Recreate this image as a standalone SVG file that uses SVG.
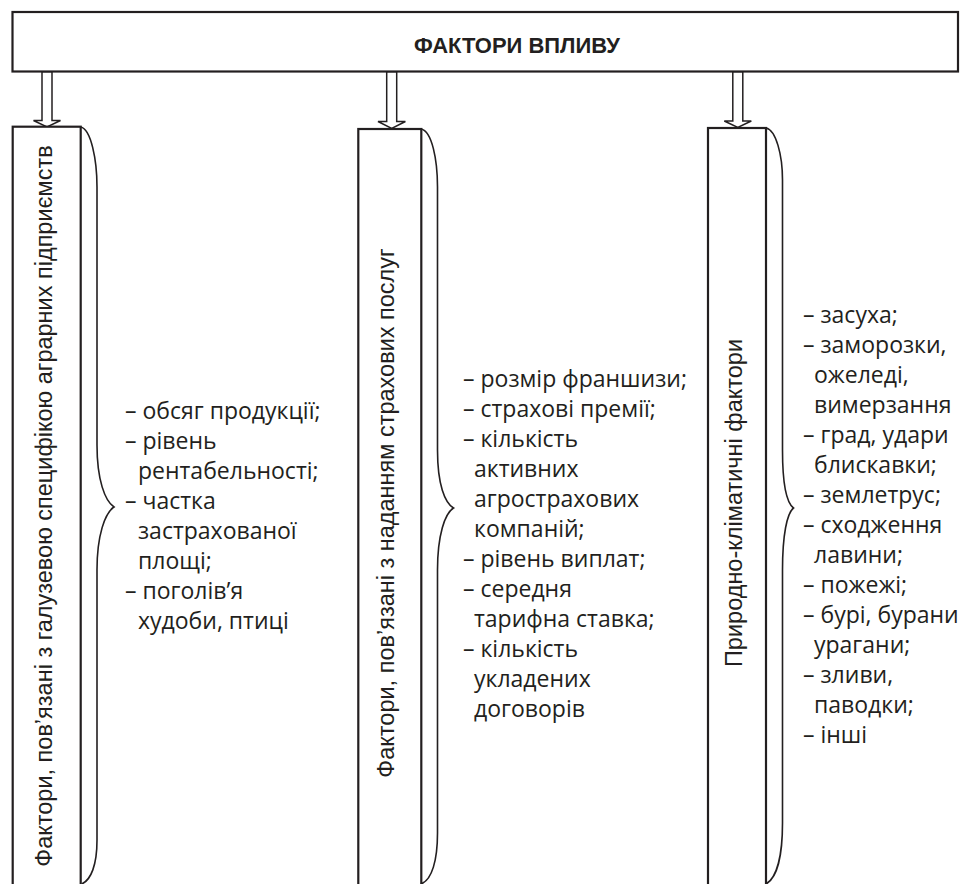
<svg xmlns="http://www.w3.org/2000/svg" width="962" height="884" viewBox="0 0 962 884">
<style>
.box{fill:#fff;stroke:#231f20;stroke-width:2.2}
.arr{fill:#fff;stroke:#231f20;stroke-width:1.5;stroke-linejoin:miter}
.brace{fill:none;stroke:#231f20;stroke-width:1.6}
.title{font-family:"Liberation Sans",Arial,sans-serif;font-weight:bold;font-size:22px;fill:#231f20}
.vt{font-family:"Liberation Sans",Arial,sans-serif;font-size:23.5px;fill:#231f20}
.li{font-family:"Open Sans","Noto Sans",sans-serif;font-size:23px;fill:#231f20}
</style>
<rect width="962" height="884" fill="#fff"/>
<g id="root">
<rect class="box" x="12.5" y="12" width="945.5" height="59.5"/>
<text class="title" x="517" y="53" text-anchor="middle" textLength="206" lengthAdjust="spacingAndGlyphs">ФАКТОРИ ВПЛИВУ</text>
</g>
<g id="connectors">
<polygon class="arr" points="42,72 42,120.5 33.5,120.5 47,127 60.5,120.5 52,120.5 52,72"/>
<polygon class="arr" points="386.7,72 386.7,121.5 378,121.5 391.7,128.5 405.4,121.5 396.7,121.5 396.7,72"/>
<polygon class="arr" points="732.8,72 732.8,121 724.3,121 737.8,127.5 751.3,121 742.8,121 742.8,72"/>
</g>
<g id="node1">
<rect class="box" x="12.7" y="126.7" width="68" height="770"/>
<text class="vt" transform="translate(52,506) rotate(-90)" text-anchor="middle">Фактори, пов’язані з галузевою специфікою аграрних підприємств</text>
<path class="brace" d="M80.7,127 C91,129 97,160 97,187 L97,445 C97,480 105,501 114,507 C105,513 97,535 97,570 L97,840 C97,865 91,880 81.7,884"/>
<text class="li" x="125" y="419">– обсяг продукції;</text>
<text class="li" x="125" y="449">– рівень</text>
<text class="li" x="138" y="479">рентабельності;</text>
<text class="li" x="125" y="509">– частка</text>
<text class="li" x="138" y="539">застрахованої</text>
<text class="li" x="138" y="569">площі;</text>
<text class="li" x="125" y="599">– поголів’я</text>
<text class="li" x="138" y="629">худоби, птиці</text>
</g>
<g id="node2">
<rect class="box" x="358.3" y="129" width="63" height="770"/>
<text class="vt" transform="translate(394,513) rotate(-90)" text-anchor="middle">Фактори, пов’язані з наданням страхових послуг</text>
<path class="brace" d="M421,129 C432,131 437.5,160 437.5,187 L437.5,450 C437.5,485 445,503 453.5,508 C445,513 437.5,535 437.5,570 L437.5,833 C437.5,860 432,880 421,884"/>
<text class="li" x="463" y="387">– розмір франшизи;</text>
<text class="li" x="463" y="417">– страхові премії;</text>
<text class="li" x="463" y="447">– кількість</text>
<text class="li" x="474" y="477">активних</text>
<text class="li" x="474" y="507">агрострахових</text>
<text class="li" x="474" y="537">компаній;</text>
<text class="li" x="463" y="567">– рівень виплат;</text>
<text class="li" x="463" y="597">– середня</text>
<text class="li" x="474" y="627">тарифна ставка;</text>
<text class="li" x="463" y="657">– кількість</text>
<text class="li" x="474" y="687">укладених</text>
<text class="li" x="474" y="717">договорів</text>
</g>
<g id="node3">
<rect class="box" x="708" y="128" width="58" height="770"/>
<text class="vt" transform="translate(742,503) rotate(-90)" text-anchor="middle">Природно-кліматичні фактори</text>
<path class="brace" d="M766,128 C776,130 782.5,155 782.5,180 L782.5,450 C782.5,485 787,503 793.5,508 C787,513 782.5,535 782.5,570 L782.5,823 C782.5,855 777,878 766,884"/>
<text class="li" x="803" y="323">– засуха;</text>
<text class="li" x="803" y="353">– заморозки,</text>
<text class="li" x="814" y="383">ожеледі,</text>
<text class="li" x="814" y="413">вимерзання</text>
<text class="li" x="803" y="443">– град, удари</text>
<text class="li" x="814" y="473">блискавки;</text>
<text class="li" x="803" y="503">– землетрус;</text>
<text class="li" x="803" y="533">– сходження</text>
<text class="li" x="814" y="563">лавини;</text>
<text class="li" x="803" y="593">– пожежі;</text>
<text class="li" x="803" y="623">– бурі, бурани</text>
<text class="li" x="814" y="653">урагани;</text>
<text class="li" x="803" y="683">– зливи,</text>
<text class="li" x="814" y="713">паводки;</text>
<text class="li" x="803" y="743">– інші</text>
</g>
</svg>
